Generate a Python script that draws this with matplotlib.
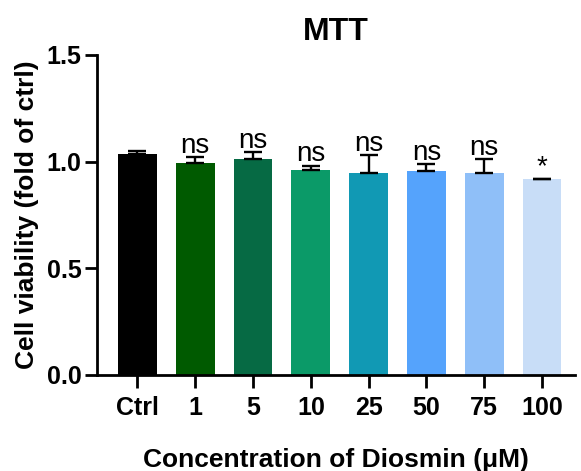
import numpy as np
import matplotlib
matplotlib.use("Agg")
import matplotlib.pyplot as plt

plt.rcParams['font.family'] = ['Liberation Sans', 'DejaVu Sans']

# data
groups = ['Ctrl', '1', '5', '10', '25', '50', '75', '100']
viability = [1.036, 0.992, 1.011, 0.960, 0.945, 0.958, 0.945, 0.917]
sem = [0.014, 0.028, 0.034, 0.022, 0.086, 0.031, 0.066, 0.004]
signif = ['', 'ns', 'ns', 'ns', 'ns', 'ns', 'ns', '*']
bar_colors = ['#000000', '#005a00', '#066a44', '#0b9a68',
              '#1199b4', '#55a3fc', '#8fbff8', '#c8ddf7']

fig = plt.figure(figsize=(5.81, 4.71), dpi=100)
ax = fig.add_axes([97 / 581, 96 / 471, 478 / 581, 320 / 471])

x = np.arange(len(groups))
ax.bar(x, viability, width=0.67, color=bar_colors, zorder=2)
ax.errorbar(x, viability, yerr=[np.zeros(len(sem)), sem], fmt='none',
            ecolor='black', elinewidth=1.7, capsize=6.5, capthick=1.7, zorder=3)

for xi, v, e, s in zip(x, viability, sem, signif):
    if s:
        ax.annotate(s, xy=(xi, v + e), xytext=(0, 3), textcoords='offset points',
                    ha='center', va='baseline', fontsize=20)

ax.set_xlim(-0.70, 7.57)
ax.set_ylim(0, 1.5)
ax.set_yticks([0, 0.5, 1.0, 1.5])
ax.set_yticklabels(['0.0', '0.5', '1.0', '1.5'])
ax.set_xticks(x)
ax.set_xticklabels(groups)

for sp in ['top', 'right']:
    ax.spines[sp].set_visible(False)
for sp in ['left', 'bottom']:
    ax.spines[sp].set_linewidth(2)
ax.tick_params(axis='both', width=2, length=9, labelsize=18)
ax.tick_params(axis='y', pad=2)
ax.tick_params(axis='x', pad=6)
for lbl in ax.get_xticklabels() + ax.get_yticklabels():
    lbl.set_fontweight('bold')

ax.set_title('MTT', fontsize=23, fontweight='bold', pad=11)
ax.set_ylabel('Cell viability (fold of ctrl)', fontsize=19, fontweight='bold', labelpad=6)
ax.set_xlabel('Concentration of Diosmin (\u03bcM)', fontsize=19, fontweight='bold', labelpad=20)

fig.savefig('out.png', dpi=100)
